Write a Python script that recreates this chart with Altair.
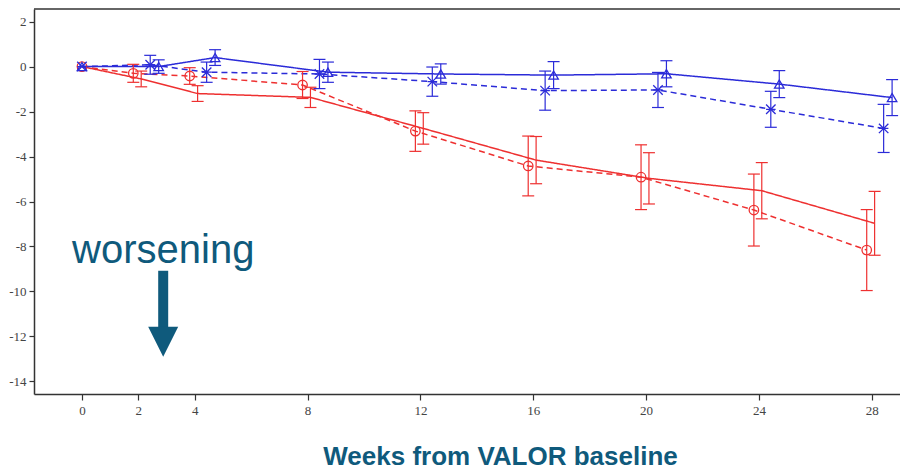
import altair as alt
import pandas as pd

# ---- data ----
weeks = [0, 2, 4, 8, 12, 16, 20, 24, 28]

red_dashed_mean = [0, -0.30, -0.42, -0.82, -2.87, -4.42, -4.92, -6.38, -8.16]
red_dashed_err = [0, 0.40, 0.37, 0.60, 0.90, 1.33, 1.44, 1.60, 1.80]

red_solid_mean = [0, -0.55, -1.20, -1.37, -2.75, -4.16, -4.97, -5.52, -6.97]
red_solid_err = [0, 0.35, 0.35, 0.45, 0.70, 1.05, 1.14, 1.25, 1.42]

blue_dashed_mean = [0, 0.08, -0.25, -0.33, -0.67, -1.07, -1.04, -1.90, -2.75]
blue_dashed_err = [0, 0.42, 0.45, 0.65, 0.65, 0.87, 0.78, 0.80, 1.07]

blue_solid_mean = [0, 0.00, 0.40, -0.25, -0.33, -0.38, -0.32, -0.78, -1.38]
blue_solid_err = [0, 0.30, 0.35, 0.45, 0.45, 0.60, 0.58, 0.60, 0.80]

x_ticks = [0, 2, 4, 8, 12, 16, 20, 24, 28]
y_ticks = [-14, -12, -10, -8, -6, -4, -2, 0, 2]

annotation_text = ["worsening"]
annotation_week = [-0.35]
annotation_value = [-8.72]
arrow_week = [2.88]
arrow_top = [-9.08]
arrow_shaft_end = [-11.7]
arrow_head = [-12.24]

# ---- styles ----
RED = "#ee3030"
BLUE = "#2b2bd8"
TEAL = "#0f5a7c"
STAR = "M-1,-1L1,1M-1,1L1,-1M-1,0L1,0"
series_names = ["red_dashed", "red_solid", "blue_dashed", "blue_solid"]
series_values = {
    "red_dashed": (red_dashed_mean, red_dashed_err),
    "red_solid": (red_solid_mean, red_solid_err),
    "blue_dashed": (blue_dashed_mean, blue_dashed_err),
    "blue_solid": (blue_solid_mean, blue_solid_err),
}
series_color = [RED, RED, BLUE, BLUE]
series_dash = [[6, 4], [1, 0], [6, 4], [1, 0]]
series_dodge = {"red_dashed": -0.18, "red_solid": 0.1, "blue_dashed": 0.42, "blue_solid": 0.72}

rows = []
for name in series_names:
    means, errs = series_values[name]
    for w, m, e in zip(weeks, means, errs):
        xpos = w + series_dodge[name] if w > 0 else w
        rows.append({"series": name, "week": w, "x": xpos, "mean": m,
                     "lo": m - e, "hi": m + e, "err": e})
df = pd.DataFrame(rows)

W, H = 866, 385
x_scale = alt.Scale(domain=[-1.70, 29.0], nice=False, zero=False)
y_scale = alt.Scale(domain=[-14.56, 2.56], nice=False, zero=False)

x_axis = alt.Axis(values=x_ticks, grid=False, domainColor="#333", domainWidth=1.5,
                  tickColor="#333", tickWidth=1.2, tickSize=6,
                  labelFont="Liberation Serif", labelFontSize=13, labelColor="#444",
                  labelPadding=4, labelExpr="'' + datum.value",
                  title="Weeks from VALOR baseline", titleFont="Liberation Sans",
                  titleFontWeight="bold", titleFontSize=26, titleColor=TEAL,
                  titleX=466, titleY=70, titleAlign="center", titleBaseline="alphabetic")
y_axis = alt.Axis(values=y_ticks, grid=False, domainColor="#333", domainWidth=1.5,
                  tickColor="#333", tickWidth=1.2, tickSize=5,
                  labelFont="Liberation Serif", labelFontSize=13, labelColor="#444",
                  labelPadding=3, labelExpr="'' + datum.value", title="")

X = alt.X("x:Q", scale=x_scale, axis=x_axis)
Y = alt.Y("mean:Q", scale=y_scale, axis=y_axis)

color = alt.Color("series:N", scale=alt.Scale(domain=series_names, range=series_color), legend=None)
dash = alt.StrokeDash("series:N", scale=alt.Scale(domain=series_names, range=series_dash), legend=None)

base = alt.Chart(df)

lines = base.mark_line(strokeWidth=1.5).encode(x=X, y=Y, color=color, strokeDash=dash, detail="series:N")

bars_df = base.transform_filter("datum.err > 0")
bars = bars_df.mark_rule(strokeWidth=1.2).encode(
    x=X, y=alt.Y("lo:Q", scale=y_scale, axis=y_axis), y2="hi:Q", color=color)
cap_lo = bars_df.mark_point(shape="M-1,0L1,0", size=144, strokeWidth=1.2, filled=False, opacity=1).encode(
    x=X, y=alt.Y("lo:Q", scale=y_scale, axis=y_axis), color=color)
cap_hi = bars_df.mark_point(shape="M-1,0L1,0", size=144, strokeWidth=1.2, filled=False, opacity=1).encode(
    x=X, y=alt.Y("hi:Q", scale=y_scale, axis=y_axis), color=color)

pts = base.transform_filter("datum.series != 'red_solid'").mark_point(
    filled=False, size=90, strokeWidth=1.3, opacity=1).encode(
    x=X, y=Y, color=color,
    shape=alt.Shape("series:N", scale=alt.Scale(domain=["red_dashed", "blue_dashed", "blue_solid"],
                                                range=["circle", STAR, "triangle-up"]), legend=None))

top_border = alt.Chart(pd.DataFrame({"a": [0]})).mark_rule(color="#333", strokeWidth=1.5).encode(
    x=alt.value(0), x2=alt.value(W), y=alt.value(0))

ann_df = pd.DataFrame({"text": annotation_text, "x": annotation_week, "mean": annotation_value})
ann = alt.Chart(ann_df).mark_text(align="left", baseline="alphabetic", fontSize=40,
                                  font="Liberation Sans", color=TEAL).encode(
    x=X, y=Y, text="text:N")

arrow_df = pd.DataFrame({"x": arrow_week, "top": arrow_top, "end": arrow_shaft_end, "mean": arrow_head})
shaft = alt.Chart(arrow_df).mark_rule(strokeWidth=10, color=TEAL, strokeCap="butt").encode(
    x=X, y=alt.Y("top:Q", scale=y_scale, axis=y_axis), y2="end:Q")
head = alt.Chart(arrow_df).mark_point(shape="M-1,-1L1,-1L0,1Z", size=900, filled=True,
                                      color=TEAL, opacity=1, strokeWidth=0).encode(x=X, y=Y)

chart = alt.layer(lines, bars, cap_lo, cap_hi, pts, top_border, ann, shaft, head).properties(
    width=W, height=H,
    autosize=alt.AutoSizeParams(type="none"),
    padding={"left": 26, "top": 1, "right": 0, "bottom": 75},
).configure_view(strokeWidth=0)

chart.save("out.html", embed_options={"renderer": "svg", "actions": False})
